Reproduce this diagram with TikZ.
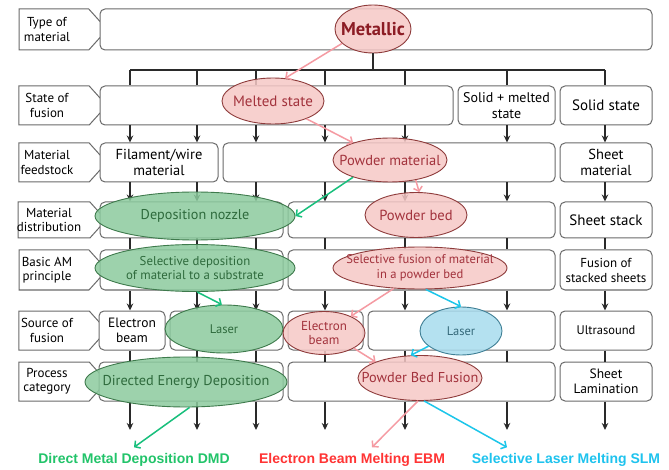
\documentclass[tikz,border=0pt]{standalone}
\usepackage{fontspec}
\setmainfont{PT Sans}
\newfontfamily\capfont{Liberation Sans}
\usetikzlibrary{shapes.geometric,shapes.symbols,arrows.meta,calc}
\definecolor{pinkfill}{HTML}{F6C8C6}
\definecolor{pinkdraw}{HTML}{8E3B3B}
\definecolor{pinktext}{HTML}{A2323C}
\definecolor{metaltext}{HTML}{8C1C24}
\definecolor{greenfill}{HTML}{8CCB9E}
\definecolor{greendraw}{HTML}{3E7A4C}
\definecolor{greentext}{HTML}{2E6A3C}
\definecolor{bluefill}{HTML}{A8DCEE}
\definecolor{bluedraw}{HTML}{3F7F95}
\definecolor{bluetext}{HTML}{35697A}
\definecolor{pinkarrow}{HTML}{F59AA2}
\definecolor{greenarrow}{HTML}{18BF7C}
\definecolor{cyanarrow}{HTML}{1CC6EA}
\definecolor{boxdraw}{HTML}{6A6A6A}
\definecolor{linecol}{HTML}{2A2A2A}
\definecolor{dmdcol}{HTML}{22C46A}
\definecolor{ebmcol}{HTML}{FF3434}
\definecolor{slmcol}{HTML}{1EC3EE}
\begin{document}
\begin{tikzpicture}[x=1pt,y=-1pt,
  every node/.style={inner sep=0pt},
  rbox/.style={draw=boxdraw, line width=1pt, rounded corners=5pt, fill=white, align=center, font=\fontsize{14}{15.5}\selectfont},
  rowtag/.style={draw=boxdraw, line width=1pt, shape=signal, signal to=east, signal pointer angle=96, minimum width=88pt, fill=white},
  tagtext/.style={align=center, font=\fontsize{13}{14.5}\selectfont},
  ell/.style={ellipse, inner xsep=-60pt, inner ysep=-30pt, line width=0.9pt, fill opacity=0.85, text opacity=1, align=center},
  pk/.style={ell, fill=pinkfill, draw=pinkdraw, text=pinktext},
  gr/.style={ell, fill=greenfill, draw=greendraw, text=greentext},
  bl/.style={ell, fill=bluefill, draw=bluedraw, text=bluetext},
  conn/.style={draw=linecol, line width=1.3pt},
  arr/.style={conn, -{Stealth[length=7pt,width=6.5pt]}},
  carr/.style={line width=1.5pt, -{Straight Barb[length=4pt,width=9pt]}},
  bottomlabel/.style={font=\capfont\bfseries\fontsize{14}{16}\selectfont}
]
\fill[white] (0,0) rectangle (669,470);
\useasboundingbox (0,0) rectangle (669,470);

% row tags
\node[rowtag, minimum height=41pt] (t1) at (54,29.5) {};
\node[rowtag, minimum height=39pt] (t2) at (54,105.5) {};
\node[rowtag, minimum height=39pt] (t3) at (54,162.5) {};
\node[rowtag, minimum height=36pt] (t4) at (54,220) {};
\node[rowtag, minimum height=40pt] (t5) at (54,270) {};
\node[rowtag, minimum height=39pt] (t6) at (54,330.5) {};
\node[rowtag, minimum height=39pt] (t7) at (54,381.5) {};
\node[tagtext] (t1t) at ($(t1.center)+(-7,0)$) {Type of\\material};
\node[tagtext] (t2t) at ($(t2.center)+(-7,0)$) {State of\\fusion};
\node[tagtext] (t3t) at ($(t3.center)+(-7,0)$) {Material\\feedstock};
\node[tagtext] (t4t) at ($(t4.center)+(-5,0)$) {Material\\distribution};
\node[tagtext] (t5t) at ($(t5.center)+(-7,0)$) {Basic AM\\principle};
\node[tagtext] (t6t) at ($(t6.center)+(-7,0)$) {Source of\\fusion};
\node[tagtext] (t7t) at ($(t7.center)+(-7,0)$) {Process\\category};

% boxes
\node[rbox, minimum width=552pt, minimum height=41pt] (r1) at (376,29.5) {};
\node[rbox, minimum width=353pt, minimum height=39pt] (r2a) at (276.5,105.5) {};
\node[rbox, minimum width=97pt, minimum height=39pt] (r2b) at (506.5,105.5) {Solid + melted\\state};
\node[rbox, minimum width=92pt, minimum height=39pt, font=\fontsize{15}{16.5}\selectfont] (r2c) at (606,105.5) {Solid state};
\node[rbox, minimum width=118pt, minimum height=39pt, font=\fontsize{14.5}{15.5}\selectfont] (r3a) at (159,162.5) {Filament/wire\\material};
\node[rbox, minimum width=332pt, minimum height=39pt] (r3b) at (389,162.5) {};
\node[rbox, minimum width=92pt, minimum height=39pt, font=\fontsize{14.5}{15.5}\selectfont] (r3c) at (606,162.5) {Sheet\\material};
\node[rbox, minimum width=183pt, minimum height=36pt] (r4a) at (191.5,220) {};
\node[rbox, minimum width=267pt, minimum height=36pt] (r4b) at (421.5,220) {};
\node[rbox, minimum width=92pt, minimum height=36pt, font=\fontsize{15}{16.5}\selectfont] (r4c) at (606,220) {Sheet stack};
\node[rbox, minimum width=183pt, minimum height=40pt] (r5a) at (191.5,270) {};
\node[rbox, minimum width=267pt, minimum height=40pt] (r5b) at (421.5,270) {};
\node[rbox, minimum width=92pt, minimum height=40pt, font=\fontsize{13}{15}\selectfont] (r5c) at (606,270) {Fusion of\\stacked sheets};
\node[rbox, minimum width=66pt, minimum height=39pt, font=\fontsize{13.5}{15}\selectfont] (r6a) at (132,330.5) {Electron\\beam};
\node[rbox, minimum width=113pt, minimum height=39pt] (r6b) at (226.5,330.5) {};
\node[rbox, minimum width=75pt, minimum height=39pt] (r6c) at (325.5,330.5) {};
\node[rbox, minimum width=187pt, minimum height=39pt] (r6d) at (461.5,330.5) {};
\node[rbox, minimum width=92pt, minimum height=39pt, font=\fontsize{12.5}{14}\selectfont] (r6e) at (606,330.5) {Ultrasound};
\node[rbox, minimum width=184pt, minimum height=39pt] (r7a) at (191,381.5) {};
\node[rbox, minimum width=267pt, minimum height=39pt] (r7b) at (421.5,381.5) {};
\node[rbox, minimum width=92pt, minimum height=39pt, font=\fontsize{13.5}{15.5}\selectfont] (r7c) at (606,381.5) {Sheet\\Lamination};

% columns
\coordinate (c1) at (130,70);
\coordinate (c2) at (197,70);
\coordinate (c3) at (256,70);
\coordinate (c4) at (325,70);
\coordinate (c5) at (405,70);
\coordinate (c6) at (507,70);
\coordinate (c7) at (605,70);
\coordinate (e1) at (130,430);
\coordinate (e2) at (197,430);
\coordinate (e3) at (256,430);
\coordinate (e4) at (325,430);
\coordinate (e5) at (405,430);
\coordinate (e6) at (507,430);
\coordinate (e7) at (605,430);

\draw[conn] (c1) -- (c7);
\foreach \c/\b in {c1/r2a,c2/r2a,c3/r2a,c4/r2a,c5/r2a,c6/r2b,c7/r2c}
  \draw[conn] (\c) -- (\c |- \b.north);
\foreach \c/\a/\b in {c1/r2a/r3a,c2/r2a/r3a,c3/r2a/r3b,c4/r2a/r3b,c5/r2a/r3b,c6/r2b/r3b,c7/r2c/r3c}
  \draw[arr] (\c |- \a.south) -- (\c |- \b.north);
\foreach \c/\a/\b in {c1/r3a/r4a,c2/r3a/r4a,c3/r3b/r4a,c4/r3b/r4b,c5/r3b/r4b,c6/r3b/r4b,c7/r3c/r4c}
  \draw[arr] (\c |- \a.south) -- (\c |- \b.north);
\foreach \c/\a/\b in {c1/r4a/r5a,c2/r4a/r5a,c3/r4a/r5a,c4/r4b/r5b,c5/r4b/r5b,c6/r4b/r5b,c7/r4c/r5c}
  \draw[conn] (\c |- \a.south) -- (\c |- \b.north);
\foreach \c/\a/\b in {c1/r5a/r6a,c2/r5a/r6b,c3/r5a/r6b,c4/r5b/r6c,c5/r5b/r6d,c6/r5b/r6d,c7/r5c/r6e}
  \draw[arr] (\c |- \a.south) -- (\c |- \b.north);
\foreach \c/\a/\b in {c1/r6a/r7a,c2/r6b/r7a,c3/r6b/r7a,c4/r6c/r7b,c5/r6d/r7b,c6/r6d/r7b,c7/r6e/r7c}
  \draw[conn] (\c |- \a.south) -- (\c |- \b.north);
\foreach \c/\a/\e in {c1/r7a/e1,c2/r7a/e2,c3/r7a/e3,c4/r7b/e4,c5/r7b/e5,c6/r7b/e6,c7/r7c/e7}
  \draw[arr] (\c |- \a.south) -- (\e);

% ellipses
\node[pk, minimum width=76pt, minimum height=48pt, text=metaltext, font=\bfseries\fontsize{18.5}{20}\selectfont] (metal) at (373,29) {Metallic};
\draw[conn] (metal.south) -- (metal.south |- c1);
\node[pk, minimum width=102pt, minimum height=46pt, font=\fontsize{15}{16}\selectfont] (melted) at (273,101) {Melted state};
\node[pk, minimum width=114pt, minimum height=44pt, font=\fontsize{14.5}{16}\selectfont] (powdermat) at (390,160) {Powder material};
\node[gr, minimum width=200pt, minimum height=48pt, font=\fontsize{14.2}{16}\selectfont] (nozzle) at (195,216) {Deposition nozzle};
\node[pk, minimum width=102pt, minimum height=45pt, font=\fontsize{14.6}{16}\selectfont] (powderbed) at (416,215) {Powder bed};
\node[gr, minimum width=200pt, minimum height=47pt, font=\fontsize{12.8}{14.5}\selectfont] (seldep) at (195,268) {Selective deposition\\of material to a substrate};
\node[pk, minimum width=174pt, minimum height=42pt, font=\fontsize{12.6}{14.5}\selectfont] (selfus) at (420,268) {Selective fusion of material\\in a powder bed};
\node[gr, minimum width=118pt, minimum height=48pt, font=\fontsize{12.5}{14}\selectfont] (laserG) at (224,329) {Laser};
\node[pk, minimum width=82pt, minimum height=43pt, font=\fontsize{13}{14.5}\selectfont] (ebeam) at (324,333) {Electron\\beam};
\node[bl, minimum width=82pt, minimum height=48pt, font=\fontsize{12.5}{14}\selectfont] (laserB) at (461,331) {Laser};
\node[gr, minimum width=202pt, minimum height=50pt, font=\fontsize{14.3}{16}\selectfont] (ded) at (186,382) {Directed Energy Deposition};
\node[pk, minimum width=124pt, minimum height=45pt, font=\fontsize{14.3}{16}\selectfont] (pbf) at (420,378) {Powder Bed Fusion};

% bottom labels
\node[bottomlabel, text=dmdcol] (dmd) at (134,460) {Direct Metal Deposition DMD};
\node[bottomlabel, text=ebmcol] (ebm) at (352,460) {Electron Beam Melting EBM};
\node[bottomlabel, text=slmcol] (slm) at (566,460) {Selective Laser Melting SLM};

% coloured arrows
\draw[carr, pinkarrow] (metal.205) -- (melted.62);
\draw[carr, pinkarrow] (melted.-28) -- (powdermat.155);
\draw[carr, pinkarrow] (powdermat.-38) -- (powderbed.82);
\draw[carr, greenarrow] (powdermat.205) -- (nozzle.east);
\draw[carr, greenarrow] (seldep.-85) -- (laserG.95);
\draw[carr, pinkarrow] (selfus.218) -- (ebeam.32);
\draw[carr, cyanarrow] (selfus.-75) -- (laserB.north);
\draw[carr, pinkarrow] (ebeam.-27) -- (pbf.160);
\draw[carr, cyanarrow] (laserB.205) -- (pbf.112);
\draw[carr, greenarrow] (ded.-82) -- ($(dmd.north)+(0,-6)$);
\draw[carr, pinkarrow] (pbf.-95) -- ($(ebm.north)+(20,-6)$);
\draw[carr, cyanarrow] (pbf.-80) -- ($(slm.north)+(-59,-6)$);
\end{tikzpicture}
\end{document}
